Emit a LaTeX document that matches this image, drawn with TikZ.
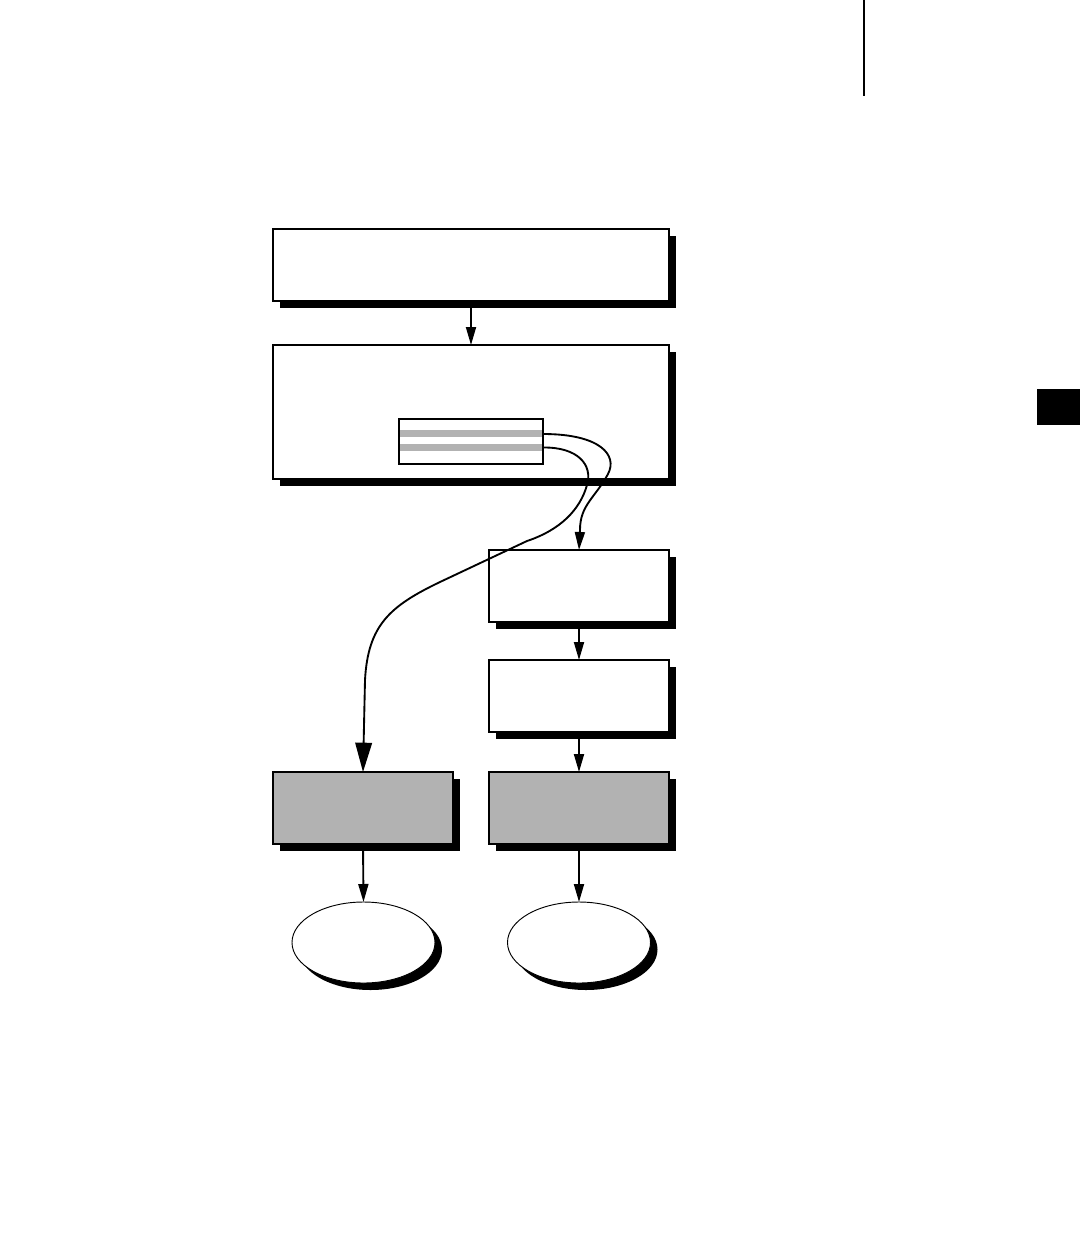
\documentclass[tikz,border=0pt]{standalone}
\usetikzlibrary{arrows.meta,shadows,calc,shapes.geometric}
\begin{document}
\begin{tikzpicture}[x=0.75pt,y=-0.75pt,
  shadowed/.style={drop shadow={fill=black,opacity=1,shadow xshift=5.25pt,shadow yshift=-5.25pt}},
  bigbox/.style={draw,fill=white,line width=1pt,minimum width=297pt,inner sep=0pt,outer sep=0pt,shadowed},
  smallbox/.style={draw,fill=white,line width=1pt,minimum width=135pt,minimum height=54pt,inner sep=0pt,outer sep=0pt,shadowed},
  graybox/.style={smallbox,fill=black!30},
  oval/.style={ellipse,draw,fill=white,line width=0.7pt,minimum width=107.25pt,minimum height=60.75pt,inner sep=0pt,outer sep=0pt,shadowed},
  conn/.style={line width=1.4pt,-{Triangle[length=13.5pt,width=7.5pt]}},
  bigconn/.style={line width=1.4pt,-{Triangle[length=22pt,width=12.5pt]}}
]
\useasboundingbox (0,0) rectangle (1080,1253);
% page decorations
\draw[line width=1.2pt] (864,0) -- (864,96);
\fill (1037,389) rectangle (1080,425);

% nodes
\node[bigbox,minimum height=54pt] (b1) at (471,265) {};
\node[bigbox,minimum height=100.5pt] (b2) at (471,412) {};
\node[draw,fill=white,line width=1pt,minimum width=108pt,minimum height=33.75pt,inner sep=0pt,outer sep=0pt,
  path picture={
    \fill[black!30] ($(path picture bounding box.north west)+(0,11)$) rectangle ($(path picture bounding box.north east)+(0,18)$);
    \fill[black!30] ($(path picture bounding box.north west)+(0,25)$) rectangle ($(path picture bounding box.north east)+(0,32)$);
  }] (inner) at (471,441.5) {};
\node[smallbox] (b3) at (579,586) {};
\node[smallbox] (b4) at (579,696) {};
\node[graybox] (g1) at (363,808) {};
\node[graybox] (g2) at (579,808) {};
\node[oval] (e1) at (363.5,942.5) {};
\node[oval] (e2) at (579,942.5) {};

\coordinate (s1) at ($(inner.east)+(0,-7.5)$);
\coordinate (s2) at ($(inner.east)+(0,6)$);

% connectors
\draw[conn] (b1.south) -- (b2.north);
\draw[conn] (s1) .. controls (600,434) and (618,455) .. (608,474)
  .. controls (595,498) and (580,505) .. (580,530) -- (b3.north);
\draw[bigconn] (s2) .. controls (578,447) and (593,465) .. (587,485)
  .. controls (580,510) and (560,530) .. (527,541) -- (440,582)
  .. controls (390,606) and (368,625) .. (365,680) -- (g1.north);
\draw[conn] (b3.south) -- (b4.north);
\draw[conn] (b4.south) -- (g2.north);
\draw[conn] (g1.south) -- (e1.north);
\draw[conn] (g2.south) -- (e2.north);
\end{tikzpicture}
\end{document}
